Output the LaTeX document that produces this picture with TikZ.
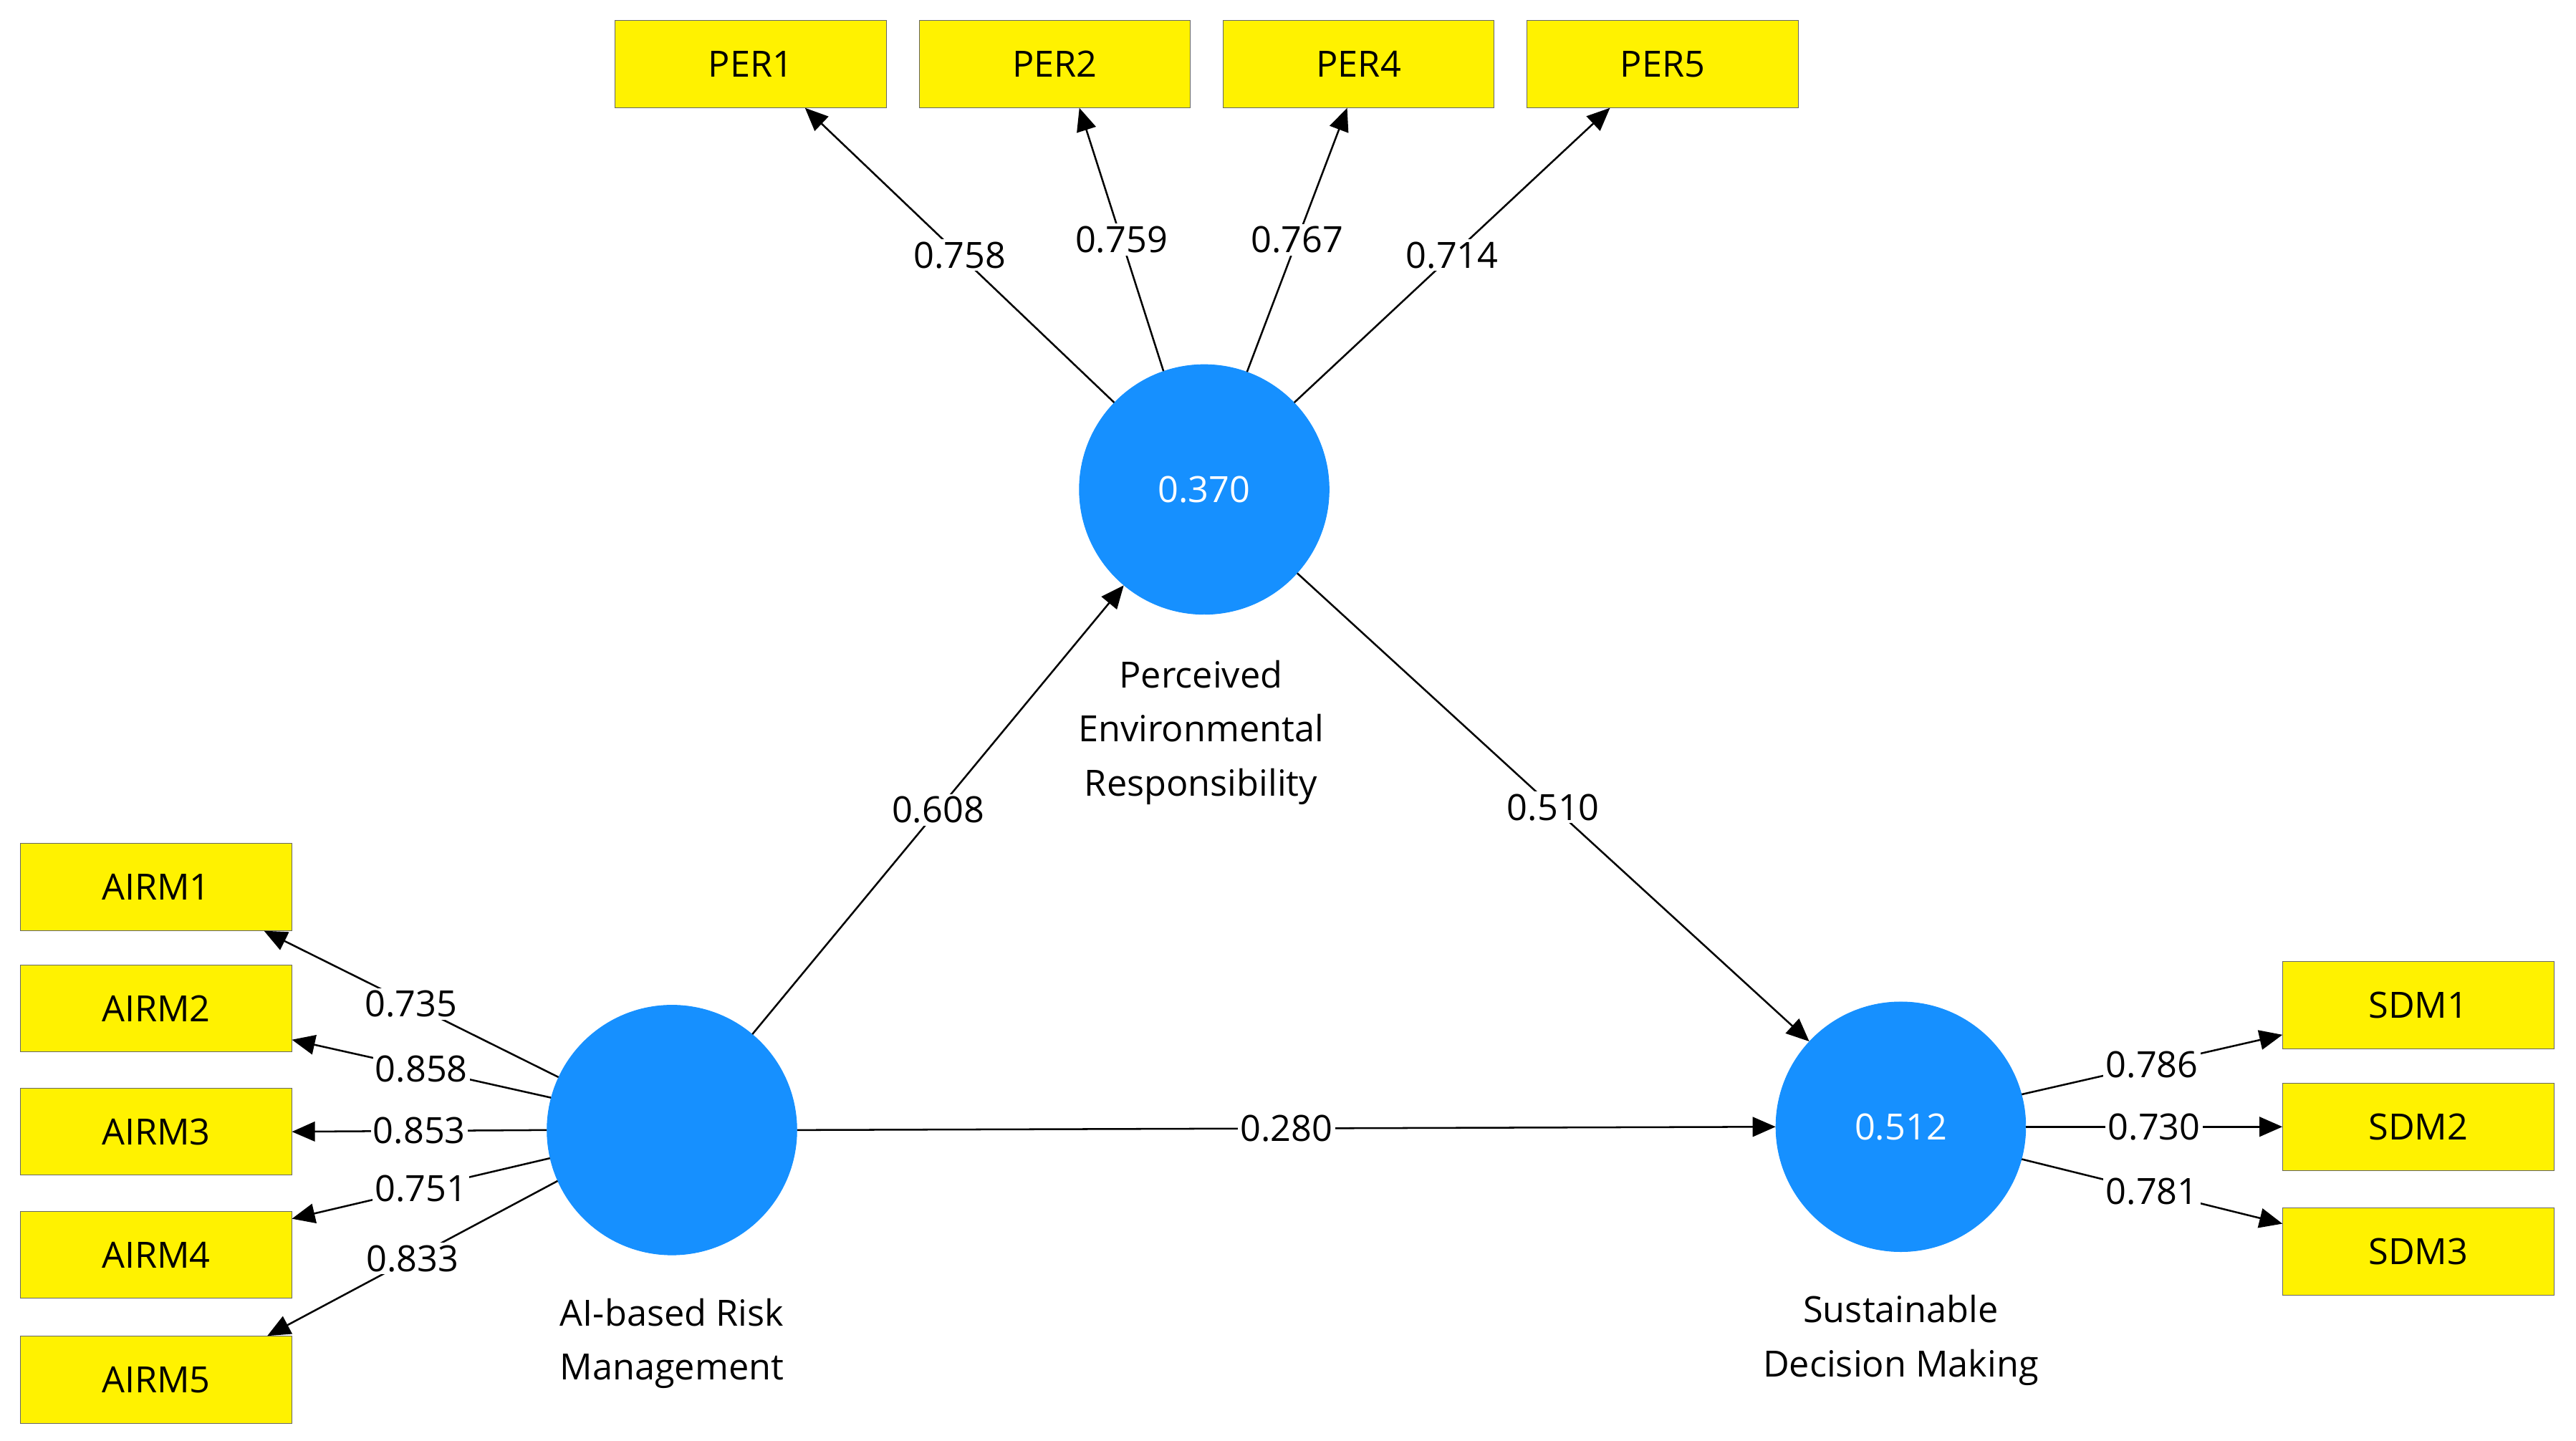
\documentclass[tikz,border=0pt]{standalone}
\usepackage{fontspec}
\setmainfont{Open Sans}
\usetikzlibrary{arrows.meta}
\begin{document}
\begin{tikzpicture}[x=1pt,y=-1pt,
  box/.style={draw=black!60,fill=yellow,minimum width=165pt,minimum height=53pt,inner sep=0pt,font=\fontsize{22}{26}\selectfont},
  lv/.style={circle,fill={rgb,255:red,22;green,144;blue,255},draw={rgb,255:red,22;green,144;blue,255},minimum size=152pt,inner sep=0pt,text=white,font=\fontsize{22}{26}\selectfont},
  lvcap/.style={align=center,font=\fontsize{22}{33}\selectfont},
  ar/.style={-{Triangle[length=14pt,width=12pt]},line width=1.1pt},
  lab/.style={fill=white,inner sep=1.5pt,font=\fontsize{22}{26}\selectfont}]
\useasboundingbox (0,0) rectangle (1568,877);
\node[box] (per1) at (457,39) {PER1};
\node[box] (per2) at (642,39) {PER2};
\node[box] (per4) at (827,39) {PER4};
\node[box] (per5) at (1012,39) {PER5};
\node[box] (a1) at (95,540) {AIRM1};
\node[box] (a2) at (95,614) {AIRM2};
\node[box] (a3) at (95,689) {AIRM3};
\node[box] (a4) at (95,764) {AIRM4};
\node[box] (a5) at (95,840) {AIRM5};
\node[box] (s1) at (1472,612) {SDM1};
\node[box] (s2) at (1472,686) {SDM2};
\node[box] (s3) at (1472,762) {SDM3};
\node[lv] (per) at (733,298) {0.370};
\node[lv] (airm) at (409,688) {};
\node[lv] (sdm) at (1157,686) {0.512};
\node[lvcap] (perc) at (731,446) {Perceived\\Environmental\\Responsibility};
\node[lvcap] (airmc) at (409,818) {AI-based Risk\\Management};
\node[lvcap] (sdmc) at (1157,816) {Sustainable\\Decision Making};
\draw[ar] (per.136) -- node[lab]{0.758} ([xshift=33pt]per1.south);
\draw[ar] (per.109) -- node[lab]{0.759} ([xshift=15pt]per2.south);
\draw[ar] (per.70) -- node[lab]{0.767} ([xshift=-7pt]per4.south);
\draw[ar] (per.44) -- node[lab]{0.714} ([xshift=-32pt]per5.south);
\draw[ar] (airm.155) -- node[lab]{0.735} ([xshift=-17pt]a1.south east);
\draw[ar] (airm.165) -- node[lab]{0.858} ([yshift=-19pt]a2.east);
\draw[ar] (airm.180) -- node[lab]{0.853} (a3.east);
\draw[ar] (airm.193) -- node[lab]{0.751} ([yshift=22pt]a4.east);
\draw[ar] (airm.204) -- node[lab]{0.833} ([xshift=-15pt]a5.north east);
\draw[ar] (sdm.15) -- node[lab]{0.786} ([yshift=-18pt]s1.west);
\draw[ar] (sdm.0) -- node[lab]{0.730} (s2.west);
\draw[ar] (sdm.-15) -- node[lab]{0.781} ([yshift=17pt]s3.west);
\draw[ar] (airm.50) -- node[lab]{0.608} (per.230);
\draw[ar] (per.318) -- node[lab]{0.510} (sdm.137);
\draw[ar] (airm.east) -- node[lab]{0.280} (sdm.west);
\end{tikzpicture}
\end{document}
